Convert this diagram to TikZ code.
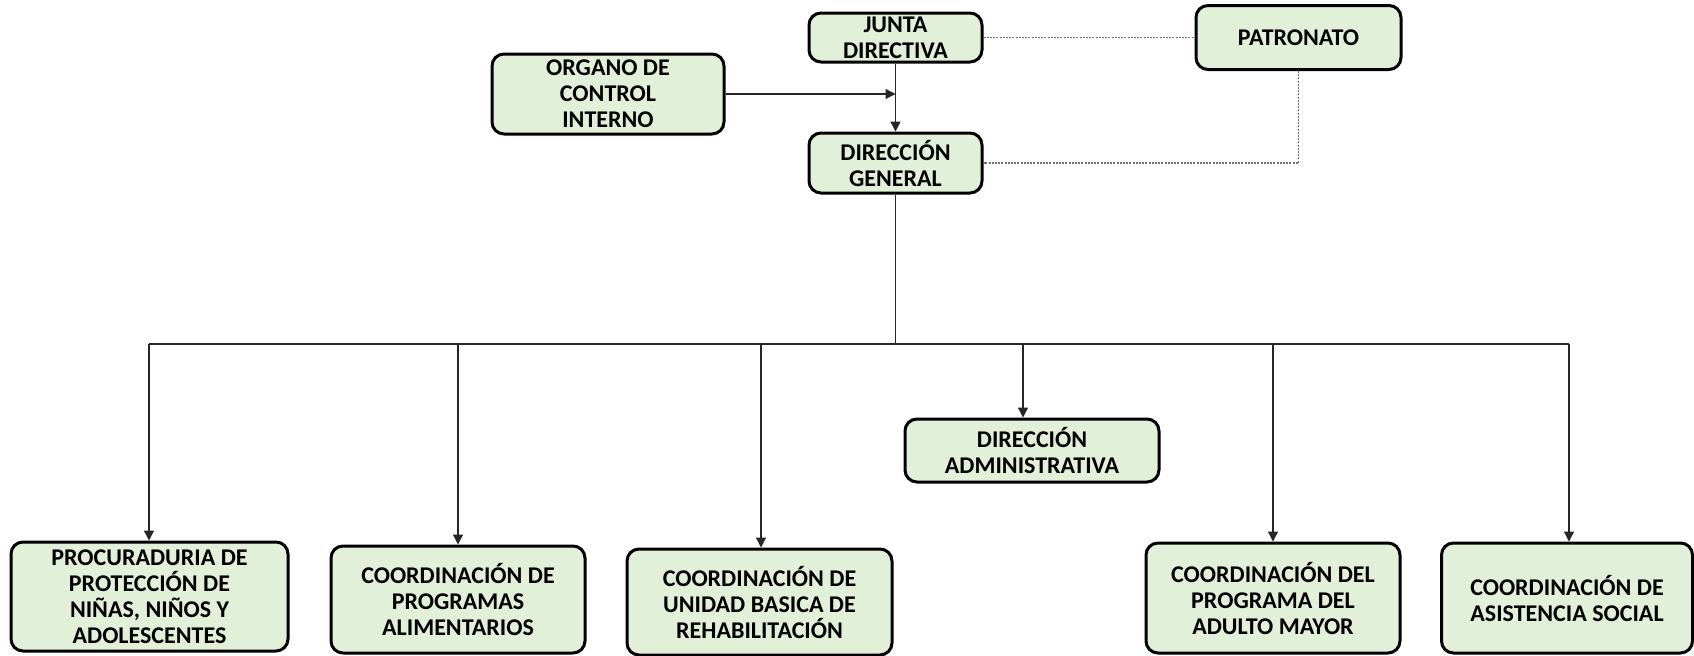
\documentclass[tikz,border=0pt]{standalone}
\usepackage{fontspec}
\setmainfont{Carlito}
\usetikzlibrary{arrows.meta}
\definecolor{boxfill}{HTML}{E2EFD9}
\definecolor{dotgray}{HTML}{6F6F6F}
\tikzset{
  orgbox/.style={draw=black, line width=1.5pt, rounded corners=6pt, fill=boxfill,
    align=center, inner sep=0pt, font=\fontsize{12}{13}\selectfont\bfseries},
  conn/.style={draw=black!85, line width=0.65pt},
  arr/.style={conn, -{Triangle[length=5pt,width=5pt]}},
  dotconn/.style={draw=dotgray, line width=0.6pt, dash pattern=on 1pt off 0.6pt}
}
\begin{document}
\begin{tikzpicture}[x=0.5pt, y=-0.5pt]
\useasboundingbox[fill=white] (0,0) rectangle (1694,655);
% top nodes
\node[orgbox, minimum width=86.5pt, minimum height=24.5pt] (junta) at (895.5,37.5) {JUNTA\\DIRECTIVA};
\node[orgbox, minimum width=116pt, minimum height=40pt] (organo) at (608,94) {ORGANO DE\\CONTROL\\INTERNO};
\node[orgbox, minimum width=86.5pt, minimum height=30pt] (dg) at (895.5,163) {DIRECCIÓN\\GENERAL};
\node[orgbox, minimum width=102.5pt, minimum height=32pt] (patronato) at (1298.5,37.5) {PATRONATO};
% lower nodes
\node[orgbox, minimum width=138.5pt, minimum height=54.5pt] (proc) at (149.5,596.5) {PROCURADURIA DE\\PROTECCIÓN DE\\NIÑAS, NIÑOS Y\\ADOLESCENTES};
\node[orgbox, minimum width=127pt, minimum height=53.5pt] (alim) at (458,599.5) {COORDINACIÓN DE\\PROGRAMAS\\ALIMENTARIOS};
\node[orgbox, minimum width=132.5pt, minimum height=53pt] (ubr) at (759.5,602) {COORDINACIÓN DE\\UNIDAD BASICA DE\\REHABILITACIÓN};
\node[orgbox, minimum width=127pt, minimum height=31.5pt] (admin) at (1032,450.5) {DIRECCIÓN\\ADMINISTRATIVA};
\node[orgbox, minimum width=127pt, minimum height=55pt] (adulto) at (1273,598) {COORDINACIÓN DEL\\PROGRAMA DEL\\ADULTO MAYOR};
\node[orgbox, minimum width=125.5pt, minimum height=55pt] (asist) at (1567,598) {COORDINACIÓN DE\\ASISTENCIA SOCIAL};
% bus coordinates
\coordinate (bus) at (895.5,344);
\coordinate (b1) at (149,344);
\coordinate (b2) at (458,344);
\coordinate (b3) at (761,344);
\coordinate (b4) at (1023,344);
\coordinate (b5) at (1273,344);
\coordinate (b6) at (1569,344);
% connectors
\draw[arr] (junta) -- (dg);
\draw[arr] (organo.east) -- (organo.east -| junta.south);
\draw[conn] (dg) -- (bus);
\draw[conn] (b1) -- (b6);
\draw[arr] (b1) -- (b1 |- proc.north);
\draw[arr] (b2) -- (b2 |- alim.north);
\draw[arr] (b3) -- (b3 |- ubr.north);
\draw[arr] (b4) -- (b4 |- admin.north);
\draw[arr] (b5) -- (b5 |- adulto.north);
\draw[arr] (b6) -- (b6 |- asist.north);
\draw[dotconn] (junta.east) -- (patronato.west);
\draw[dotconn] (patronato.south) |- (dg.east);
\end{tikzpicture}
\end{document}
